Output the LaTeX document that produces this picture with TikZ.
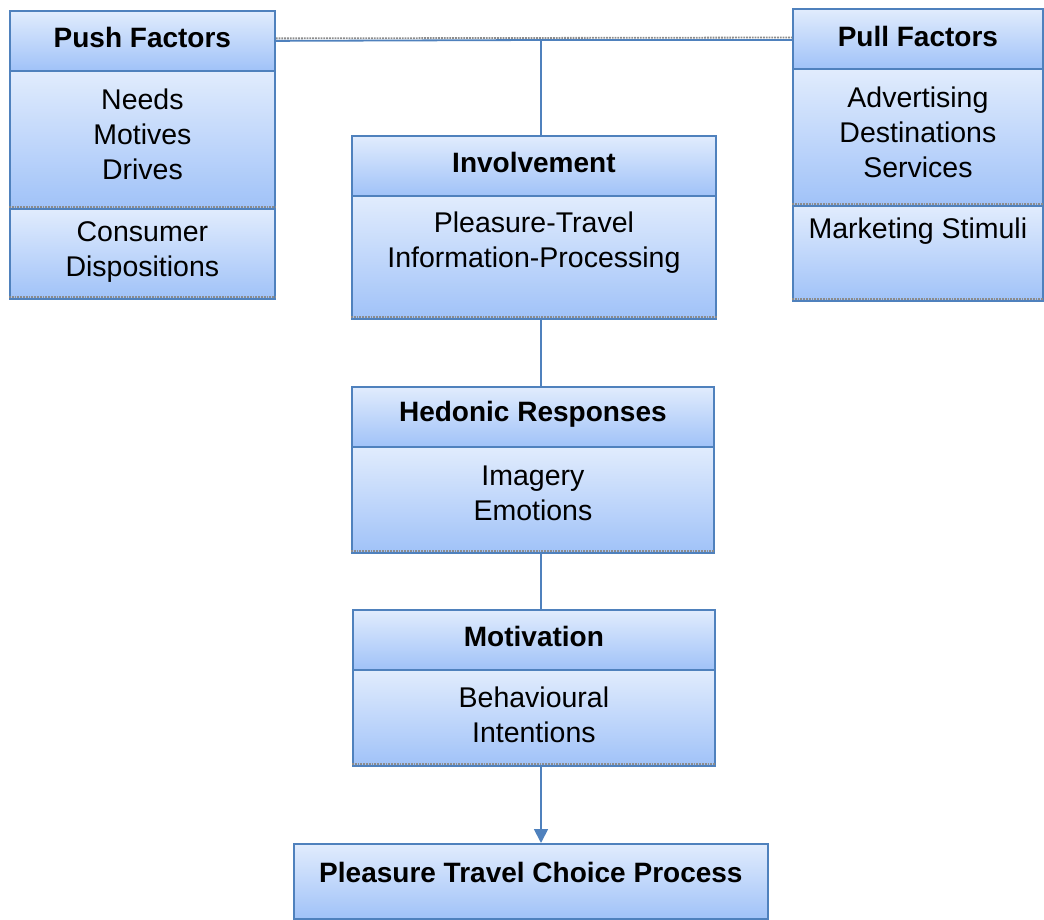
\documentclass[tikz,border=0pt]{standalone}
\usepackage{fontspec}
\setmainfont{Liberation Sans}
\usetikzlibrary{arrows.meta}

\definecolor{edge}{RGB}{79,129,189}
\definecolor{gtop}{RGB}{225,236,253}
\definecolor{gbot}{RGB}{160,194,248}
\definecolor{shade}{RGB}{140,140,140}

\tikzset{
  sec/.style={draw=edge, line width=1.8pt, top color=gtop, bottom color=gbot,
              anchor=north west, inner sep=0pt},
  head/.style={font=\bfseries\fontsize{28}{34}\selectfont, align=center, inner sep=0pt},
  body/.style={font=\fontsize{28.5}{35}\selectfont, align=center, inner sep=0pt},
  conn/.style={draw=edge, line width=1.8pt},
  drop/.style={draw=shade, line width=1.8pt, densely dotted},
}

\begin{document}
\begin{tikzpicture}[x=1pt, y=-1pt]
\useasboundingbox (0,0) rectangle (1044,920);

% Push factors
\node[sec, minimum width=265, minimum height=60]  (pushh) at (9,10) {};
\node[sec, minimum width=265, minimum height=138] (pushb) at (9,70) {};
\node[sec, minimum width=265, minimum height=90]  (pushc) at (9,208) {};
\node[head] (pushht) at ([yshift=3]pushh.center) {Push Factors};
\node[body] (pushbt) at ([yshift=6]pushb.center) {Needs\\Motives\\Drives};
\node[body] (pushct) at ([yshift=2]pushc.center) {Consumer\\Dispositions};

% Pull factors
\node[sec, minimum width=250, minimum height=60]  (pullh) at (792,8) {};
\node[sec, minimum width=250, minimum height=137] (pullb) at (792,68) {};
\node[sec, minimum width=250, minimum height=95]  (pullc) at (792,205) {};
\node[head] (pullht) at ([yshift=2]pullh.center) {Pull Factors};
\node[body] (pullbt) at ([yshift=5]pullb.center) {Advertising\\Destinations\\Services};
\node[body, anchor=north] (pullct) at ([yshift=-13]pullc.north) {Marketing Stimuli};

% Involvement
\node[sec, minimum width=364, minimum height=60]  (invh) at (351,135) {};
\node[sec, minimum width=364, minimum height=123] (invb) at (351,195) {};
\node[head] (invht) at ([yshift=3]invh.center) {Involvement};
\node[body] (invbt) at ([yshift=15]invb.center) {Pleasure-Travel\\Information-Processing};

% Hedonic responses
\node[sec, minimum width=362, minimum height=60]  (hedh) at (351,386) {};
\node[sec, minimum width=362, minimum height=106] (hedb) at (351,446) {};
\node[head] (hedht) at ([yshift=3]hedh.center) {Hedonic Responses};
\node[body] (hedbt) at ([yshift=7]hedb.center) {Imagery\\Emotions};

% Motivation
\node[sec, minimum width=362, minimum height=60] (moth) at (352,609) {};
\node[sec, minimum width=362, minimum height=96] (motb) at (352,669) {};
\node[head] (motht) at ([yshift=3]moth.center) {Motivation};
\node[body] (motbt) at ([yshift=3]motb.center) {Behavioural\\Intentions};

% Choice process
\node[sec, minimum width=474, minimum height=75] (choice) at (293,843) {};
\node[head] (choicet) at ([yshift=9]choice.center) {Pleasure Travel Choice Process};

% soft drop lines under section edges
\draw[drop] ([yshift=2.5]pushb.south west) -- ([yshift=2.5]pushb.south east);
\draw[drop] ([yshift=2.5]pushc.south west) -- ([yshift=2.5]pushc.south east);
\draw[drop] ([yshift=2.5]pullb.south west) -- ([yshift=2.5]pullb.south east);
\draw[drop] ([yshift=2.5]pullc.south west) -- ([yshift=2.5]pullc.south east);
\draw[drop] ([yshift=2.5]invb.south west) -- ([yshift=2.5]invb.south east);
\draw[drop] ([yshift=2.5]hedb.south west) -- ([yshift=2.5]hedb.south east);
\draw[drop] ([yshift=2.5]motb.south west) -- ([yshift=2.5]motb.south east);

% connectors
\coordinate (jn) at (541,40);
\draw[drop] ([yshift=2.5]pushh.east) -- ([yshift=2.5]jn -| pullh.west);
\draw[conn] (pushh.east) -- (jn) -- (jn -| pullh.west);
\draw[conn] (jn) -- (jn |- invh.north);
\draw[conn] ([yshift=2]jn |- invb.south) -- (jn |- hedh.north);
\draw[conn] ([yshift=2]jn |- hedb.south) -- (jn |- moth.north);
\draw[conn, -{Triangle[length=14pt, width=14pt]}] ([yshift=2]jn |- motb.south) -- (jn |- choice.north);
\end{tikzpicture}
\end{document}
